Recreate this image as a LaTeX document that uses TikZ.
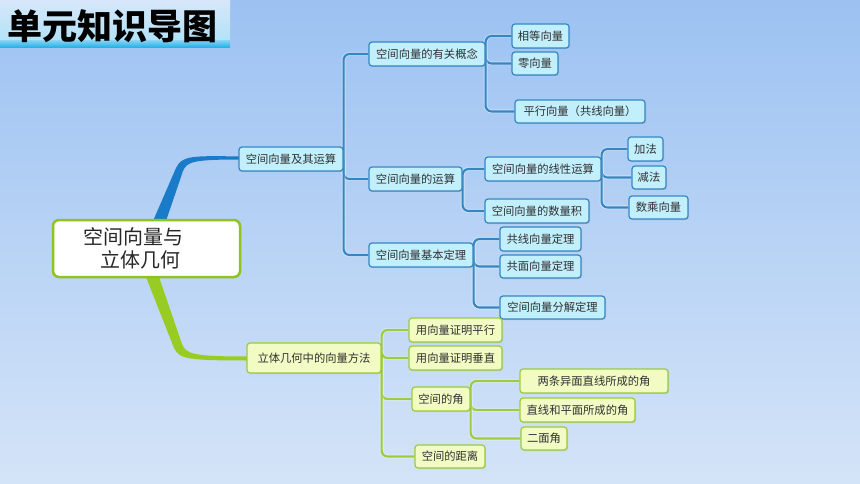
\documentclass[tikz,border=0pt]{standalone}
\usepackage{fontspec}
\setmainfont{Noto Sans CJK SC}
\usetikzlibrary{shadows}
\pgfdeclarelayer{back}
\pgfdeclarelayer{conn}
\pgfsetlayers{back,conn,main}
\definecolor{bgtop}{HTML}{9CC2F2}
\definecolor{bgbot}{HTML}{D4E4F8}
\definecolor{bfill}{HTML}{C2EFFC}
\definecolor{bline}{HTML}{3587C4}
\definecolor{gfill}{HTML}{F1FBC3}
\definecolor{gline}{HTML}{9CCB3B}
\definecolor{rline}{HTML}{8FC31F}
\definecolor{txt}{HTML}{303030}
\definecolor{mainblue}{HTML}{1A7CC8}
\definecolor{mainGreen}{HTML}{99CC22}
\definecolor{stripa}{HTML}{7CCFF2}
\definecolor{stripb}{HTML}{1AAEE6}
\tikzset{
  nodebase/.style={rounded corners=3pt, line width=1.2pt, inner sep=2pt, text=txt,
    font=\fontsize{11.3}{13}\selectfont, minimum height=24pt,
    drop shadow={shadow xshift=1pt, shadow yshift=-1pt, opacity=0.25}},
  bn/.style={nodebase, draw=bline, fill=bfill},
  gn/.style={nodebase, draw=gline, fill=gfill},
  bconn/.style={draw=bline, line width=2.1pt, rounded corners=6pt,
    preaction={draw=white, opacity=0.35, line width=4pt}},
  gconn/.style={draw=gline, line width=2.2pt, rounded corners=6pt,
    preaction={draw=white, opacity=0.35, line width=4pt}},
}
\begin{document}
\begin{tikzpicture}[x=1pt,y=-1pt]
\useasboundingbox (0,0) rectangle (860,484);
\begin{pgfonlayer}{back}
\shade[top color=bgtop, bottom color=bgbot] (0,0) rectangle (860,484);
\shade[top color=bgtop!40!white, middle color=white!95!bgtop, bottom color=stripa!60!white] (0,0) rectangle (230,42);
\shade[top color=stripa, bottom color=stripb] (0,41) rectangle (230,48);
\end{pgfonlayer}
\node[font=\fontsize{35}{38}\selectfont\bfseries, text=black, inner sep=0pt] (title) at (113,26) {单元知识导图};

% root
\node[draw=rline, fill=white, line width=2.5pt, rounded corners=6pt, minimum width=187pt,
  minimum height=57pt, text width=157pt, inner sep=0pt, align=left, text=txt!80!black,
  font=\fontsize{20}{23}\selectfont] (root) at (146.5,248.5)
  {\hspace*{15pt}空间向量与\\\hspace*{32pt}立体几何};

% level 1
\node[bn, minimum width=104pt] (A) at (291,159) {空间向量及其运算};
\node[gn, minimum width=134pt, minimum height=30pt] (B) at (314,358) {立体几何中的向量方法};

% blue level 2
\node[bn, minimum width=116pt] (A1) at (427,54) {空间向量的有关概念};
\node[bn, minimum width=93pt] (A2) at (415.5,179) {空间向量的运算};
\node[bn, minimum width=104pt] (A3) at (421,255) {空间向量基本定理};

% blue level 3
\node[bn, minimum width=57pt] (A1a) at (540.5,36) {相等向量};
\node[bn, minimum width=46pt, minimum height=23pt] (A1b) at (535,63.5) {零向量};
\node[bn, minimum width=130pt, minimum height=23pt] (A1c) at (580,111.5) {平行向量（共线向量）};
\node[bn, minimum width=116pt] (A2a) at (543,169) {空间向量的线性运算};
\node[bn, minimum width=104pt] (A2b) at (537,211) {空间向量的数量积};
\node[bn, minimum width=35pt] (A2a1) at (645.5,149) {加法};
\node[bn, minimum width=34pt, minimum height=23pt] (A2a2) at (649,177.5) {减法};
\node[bn, minimum width=59pt, minimum height=23pt] (A2a3) at (658.5,207.5) {数乘向量};
\node[bn, minimum width=81pt] (A3a) at (540.5,239) {共线向量定理};
\node[bn, minimum width=81pt, minimum height=23pt] (A3b) at (540.5,266.5) {共面向量定理};
\node[bn, minimum width=105pt, minimum height=23pt] (A3c) at (552.5,307.5) {空间向量分解定理};

% green level 2
\node[gn, minimum width=93pt] (B1) at (455.5,330) {用向量证明平行};
\node[gn, minimum width=93pt] (B2) at (455.5,358) {用向量证明垂直};
\node[gn, minimum width=58pt] (B3) at (441,399) {空间的角};
\node[gn, minimum width=70pt, minimum height=23pt] (B4) at (450,456.5) {空间的距离};
\node[gn, minimum width=148pt] (B3a) at (594,381) {两条异面直线所成的角};
\node[gn, minimum width=115pt] (B3b) at (577.5,410) {直线和平面所成的角};
\node[gn, minimum width=46pt, minimum height=23pt] (B3c) at (544,438.5) {二面角};

\begin{pgfonlayer}{conn}
% main branches
\fill[mainblue] (153,221) -- (176,168) .. controls (182,156) and (190,155.5) .. (240,156.5)
  -- (240,159.5) .. controls (192,159.5) and (187,162) .. (183,171) -- (166,221) -- cycle;
\fill[mainGreen] (146,277) -- (174,348) .. controls (179,359) and (188,360.5) .. (247,360.5)
  -- (247,356.5) .. controls (193,356.5) and (186,354) .. (182,344) -- (159,277) -- cycle;
% connectors
\path[bconn] (A.east) |- (A1.west);
\path[bconn] (A.east) |- (A2.west);
\path[bconn] (A.east) |- (A3.west);
\path[bconn] (A1.east) |- (A1a.west);
\path[bconn] (A1.east) |- (A1b.west);
\path[bconn] (A1.east) |- (A1c.west);
\path[bconn] (A2.east) |- (A2a.west);
\path[bconn] (A2.east) |- (A2b.west);
\path[bconn] (A2a.east) |- (A2a1.west);
\path[bconn] (A2a.east) |- (A2a2.west);
\path[bconn] (A2a.east) |- (A2a3.west);
\path[bconn] (A3.east) |- (A3a.west);
\path[bconn] (A3.east) |- (A3b.west);
\path[bconn] (A3.east) |- (A3c.west);
\path[gconn] (B.east) |- (B1.west);
\path[gconn] (B.east) |- (B2.west);
\path[gconn] (B.east) |- (B3.west);
\path[gconn] (B.east) |- (B4.west);
\path[gconn] (B3.east) |- (B3a.west);
\path[gconn] (B3.east) |- (B3b.west);
\path[gconn] (B3.east) |- (B3c.west);
\end{pgfonlayer}
\end{tikzpicture}
\end{document}
